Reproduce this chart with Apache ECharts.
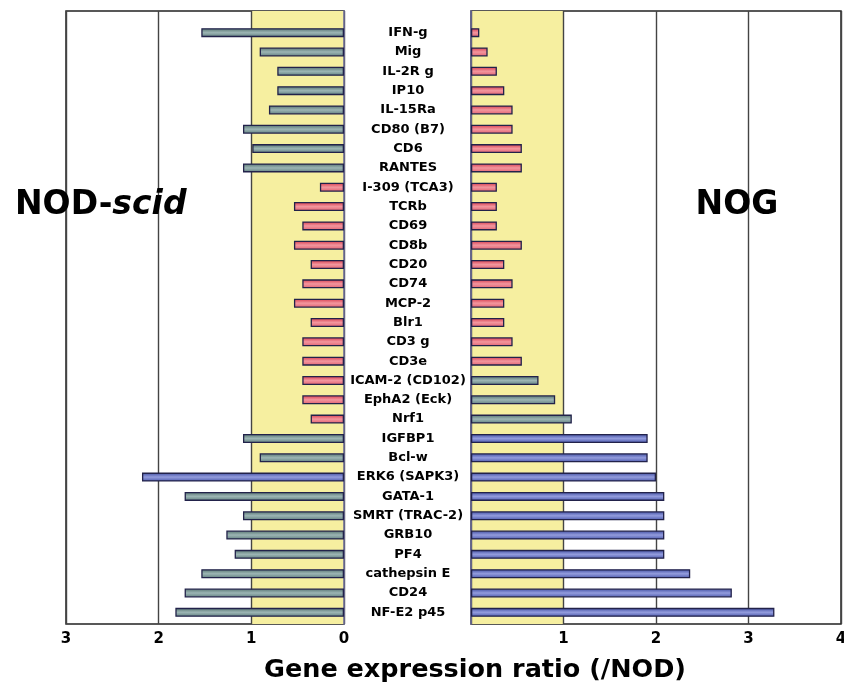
<!DOCTYPE html>
<html>
<head>
<meta charset="utf-8">
<script src="https://cdn.jsdelivr.net/npm/echarts@6/dist/echarts.min.js"></script>
<style>
html,body{margin:0;padding:0;background:#fff;}
#c{width:844px;height:684px;}
</style>
</head>
<body>
<div id="c"></div>
<script>
const categories = ['IFN-g','Mig','IL-2R g','IP10','IL-15Ra','CD80 (B7)','CD6','RANTES','I-309 (TCA3)','TCRb','CD69','CD8b','CD20','CD74','MCP-2','Blr1','CD3 g','CD3e','ICAM-2 (CD102)','EphA2 (Eck)','Nrf1','IGFBP1','Bcl-w','ERK6 (SAPK3)','GATA-1','SMRT (TRAC-2)','GRB10','PF4','cathepsin E','CD24','NF-E2 p45'];
const nodScid = [1.54,0.91,0.72,0.72,0.81,1.09,0.99,1.09,0.26,0.54,0.45,0.54,0.36,0.45,0.54,0.36,0.45,0.45,0.45,0.45,0.36,1.09,0.91,2.18,1.72,1.09,1.27,1.18,1.54,1.72,1.82];
const nog = [0.09,0.18,0.28,0.36,0.45,0.45,0.55,0.55,0.28,0.28,0.28,0.55,0.36,0.45,0.36,0.36,0.45,0.55,0.73,0.91,1.09,1.91,1.91,2.00,2.09,2.09,2.09,2.09,2.37,2.82,3.28];
const nodScidClass = ['g','g','g','g','g','g','g','g','r','r','r','r','r','r','r','r','r','r','r','r','r','g','g','b','g','g','g','g','g','g','g'];
const nogClass = ['r','r','r','r','r','r','r','r','r','r','r','r','r','r','r','r','r','r','g','g','g','b','b','b','b','b','b','b','b','b','b'];

function grad(c1, c2, c3) {
  return new echarts.graphic.LinearGradient(0, 0, 0, 1, [
    {offset: 0, color: c1}, {offset: 0.5, color: c2}, {offset: 1, color: c3}
  ]);
}
const palette = {
  g: grad('#54726f', '#9cb5b4', '#5f7e7e'),
  r: grad('#d83a4c', '#f2969e', '#e2606f'),
  b: grad('#3e4ca0', '#939cdd', '#4a58ac')
};
function items(vals, cls) {
  return vals.map((v, i) => ({value: v, itemStyle: {color: palette[cls[i]]}}));
}

const FONT = '"DejaVu Sans", Verdana, sans-serif';
const YELLOW = '#f6efa0';
const NONE = 'rgba(0,0,0,0)';
const chart = echarts.init(document.getElementById('c'), null, {renderer: 'canvas'});

const bgX = (max, inverse, idx, hideZero) => ({
  type: 'value', gridIndex: idx, min: 0, max: max, interval: 1, inverse: inverse, z: 1,
  axisLine: {show: false}, axisTick: {show: false},
  splitArea: {show: true, areaStyle: {color: [YELLOW, NONE, NONE, NONE, NONE]}},
  splitLine: {show: true, lineStyle: {color: '#444', width: 1.4}},
  axisLabel: {show: true, margin: 8, color: '#000', fontSize: 15, fontWeight: 'bold', fontFamily: FONT,
    formatter: v => (hideZero && v === 0) ? '' : String(v)}
});
const barX = (max, inverse, idx) => ({
  type: 'value', gridIndex: idx, min: 0, max: max, inverse: inverse, show: false
});

const option = {
  animation: false,
  backgroundColor: '#fff',
  grid: [
    {left: 66, right: 500, top: 11, bottom: 60, show: true, borderColor: '#222', borderWidth: 1.5, z: 1, outerBoundsMode: 'none', containLabel: false},
    {left: 471, right: 3, top: 11, bottom: 60, show: true, borderColor: '#222', borderWidth: 1.5, z: 1, outerBoundsMode: 'none', containLabel: false},
    {left: 66, right: 500, top: 23, bottom: 62, outerBoundsMode: 'none', containLabel: false},
    {left: 471, right: 3, top: 23, bottom: 62, outerBoundsMode: 'none', containLabel: false}
  ],
  xAxis: [
    bgX(3, true, 0, false),
    bgX(4, false, 1, true),
    barX(3, true, 2),
    barX(4, false, 3)
  ],
  yAxis: [
    {type: 'value', gridIndex: 0, min: 0, max: 1, position: 'right', z: 2,
      axisLine: {show: true, lineStyle: {color: '#6e6e9e', width: 1.5}}, axisTick: {show: false}, axisLabel: {show: false}, splitLine: {show: false}},
    {type: 'value', gridIndex: 1, min: 0, max: 1, position: 'left', z: 2,
      axisLine: {show: true, lineStyle: {color: '#6e6e9e', width: 1.5}}, axisTick: {show: false}, axisLabel: {show: false}, splitLine: {show: false}},
    {type: 'category', gridIndex: 2, data: categories, inverse: true, position: 'right',
      axisLine: {show: false}, axisTick: {show: false}, axisLabel: {show: false}},
    {type: 'category', gridIndex: 3, data: categories, inverse: true, position: 'left',
      axisLine: {show: false}, axisTick: {show: false},
      axisLabel: {show: true, interval: 0, margin: 63, align: 'center', color: '#000', fontSize: 13, fontWeight: 'bold', fontFamily: FONT}}
  ],
  series: [
    {type: 'bar', name: 'NOD-scid', xAxisIndex: 2, yAxisIndex: 2, barWidth: 9, z: 3,
      itemStyle: {borderColor: '#22224a', borderWidth: 1.3}, data: items(nodScid, nodScidClass)},
    {type: 'bar', name: 'NOG', xAxisIndex: 3, yAxisIndex: 3, barWidth: 9, z: 3,
      itemStyle: {borderColor: '#22224a', borderWidth: 1.3}, data: items(nog, nogClass)}
  ],
  graphic: [
    {type: 'text', left: 15, top: 189, z: 10, style: {
      text: '{n|NOD-}{i|scid}', fill: '#000',
      rich: {
        n: {font: 'bold 33px ' + FONT, fill: '#000'},
        i: {font: 'italic bold 33px ' + FONT, fill: '#000'}
      }}},
    {type: 'text', x: 737, y: 205, z: 10, style: {
      text: 'NOG', font: 'bold 33px ' + FONT, fill: '#000', align: 'center', verticalAlign: 'middle'}},
    {type: 'text', x: 475, y: 670, z: 10, style: {
      text: 'Gene expression ratio (/NOD)', font: 'bold 25.5px ' + FONT, fill: '#000', align: 'center', verticalAlign: 'middle'}}
  ]
};
chart.setOption(option);
</script>
</body>
</html>
